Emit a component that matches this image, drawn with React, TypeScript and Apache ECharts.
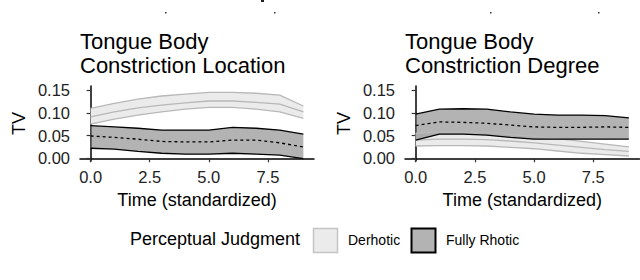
import React, { useEffect, useRef } from "react";
import * as echarts from "echarts";

const timePoints = [0, 1, 2, 3, 4, 5, 6, 7, 8, 9];
const xTicks = [0, 2.5, 5, 7.5];
const yTicks = [0, 0.05, 0.1, 0.15];

// Tongue Body Constriction Location
const locDerhoticUpper = [0.110, 0.121, 0.130, 0.137, 0.141, 0.145, 0.145, 0.143, 0.139, 0.115];
const locDerhoticMean = [0.091, 0.102, 0.111, 0.117, 0.122, 0.126, 0.126, 0.123, 0.119, 0.102];
const locDerhoticLower = [0.075, 0.086, 0.095, 0.102, 0.108, 0.112, 0.112, 0.108, 0.102, 0.088];
const locRhoticUpper = [0.072, 0.069, 0.066, 0.062, 0.062, 0.062, 0.068, 0.066, 0.062, 0.053];
const locRhoticMean = [0.049, 0.046, 0.042, 0.037, 0.036, 0.036, 0.040, 0.040, 0.034, 0.025];
const locRhoticLower = [0.022, 0.020, 0.015, 0.011, 0.009, 0.009, 0.011, 0.009, 0.007, -0.001];

// Tongue Body Constriction Degree
const degDerhoticUpper = [0.055, 0.057, 0.057, 0.056, 0.052, 0.048, 0.043, 0.037, 0.031, 0.025];
const degDerhoticMean = [0.040, 0.042, 0.042, 0.041, 0.038, 0.034, 0.029, 0.024, 0.019, 0.015];
const degDerhoticLower = [0.027, 0.028, 0.028, 0.027, 0.024, 0.021, 0.016, 0.011, 0.008, 0.005];
const degRhoticUpper = [0.097, 0.108, 0.109, 0.108, 0.102, 0.097, 0.095, 0.095, 0.094, 0.089];
const degRhoticMean = [0.072, 0.080, 0.079, 0.077, 0.073, 0.069, 0.068, 0.068, 0.069, 0.068];
const degRhoticLower = [0.040, 0.053, 0.053, 0.051, 0.046, 0.042, 0.042, 0.042, 0.042, 0.042];

const panelTitles = ["Tongue Body\nConstriction Location", "Tongue Body\nConstriction Degree"];
const legendTitle = "Perceptual Judgment";
const legendLabels = ["Derhotic", "Fully Rhotic"];

const FONT = "'Liberation Sans', Arial, sans-serif";
const D_FILL = "#ebebeb";
const D_LINE = "#b8b8b8";
const R_FILL = "#808080";

const pairs = (vals: number[]) => timePoints.map((t, i) => [t, vals[i]]);

function bandSeries(idx: number, up: number[], lo: number[], fill: string, opacity: number) {
  return {
    type: "custom",
    xAxisIndex: idx,
    yAxisIndex: idx,
    silent: true,
    clip: true,
    data: timePoints.map((t, i) => [t, lo[i], up[i]]),
    encode: { x: 0, y: [1, 2] },
    renderItem: (params: any, api: any) => {
      if (params.dataIndex !== 0) return null;
      const top = timePoints.map((t, i) => api.coord([t, up[i]]));
      const bottom = timePoints.map((t, i) => api.coord([t, lo[i]])).reverse();
      return {
        type: "polygon",
        shape: { points: top.concat(bottom) },
        style: { fill, opacity },
      };
    },
  };
}

function panelSeries(idx: number, dU: number[], dM: number[], dL: number[], rU: number[], rM: number[], rL: number[]) {
  const base = { type: "line", xAxisIndex: idx, yAxisIndex: idx, symbol: "none", silent: true };
  const edge = (vals: number[], color: string, width: number, type: any = "solid") => ({
    ...base,
    data: pairs(vals),
    lineStyle: { color, width, type },
  });
  return [
    bandSeries(idx, dU, dL, D_FILL, 1),
    edge(dU, D_LINE, 1.3),
    edge(dL, D_LINE, 1.3),
    edge(dM, D_LINE, 1.3),
    bandSeries(idx, rU, rL, R_FILL, 0.6),
    edge(rU, "#000", 1.3),
    edge(rL, "#000", 1.3),
    edge(rM, "#000", 1.3, [3, 3]),
  ];
}

export default function App() {
  const ref = useRef<HTMLDivElement>(null);
  useEffect(() => {
    if (!ref.current) return;
    const chart = echarts.init(ref.current, null, { renderer: "svg" });
    const grids = [
      { left: 80, top: 86, width: 234, height: 75 },
      { left: 405, top: 86, width: 234.5, height: 75 },
    ];
    const axisLine = { show: true, lineStyle: { color: "#000", width: 1.5 } };
    const xAxis = grids.map((_, i) => ({
      type: "value",
      gridIndex: i,
      min: -0.45,
      max: 9.45,
      name: "Time (standardized)",
      nameLocation: "middle",
      nameGap: 30,
      nameTextStyle: { fontSize: 18, fontFamily: FONT, color: "#000" },
      axisLine,
      axisTick: { show: true, length: 4, customValues: xTicks, lineStyle: { color: "#333", width: 1.2 } },
      axisLabel: {
        customValues: xTicks,
        formatter: (v: number) => v.toFixed(1),
        fontSize: 16.5,
        fontFamily: FONT,
        color: "#222",
        margin: 7,
      },
      splitLine: { show: false },
    }));
    const yAxis = grids.map((_, i) => ({
      type: "value",
      gridIndex: i,
      min: -0.006,
      max: 0.159,
      name: "TV",
      nameLocation: "middle",
      nameGap: 52,
      nameTextStyle: { fontSize: 18, fontFamily: FONT, color: "#000" },
      axisLine,
      axisTick: { show: true, length: 4, customValues: yTicks, lineStyle: { color: "#333", width: 1.2 } },
      axisLabel: {
        customValues: yTicks,
        formatter: (v: number) => v.toFixed(2),
        fontSize: 16.5,
        fontFamily: FONT,
        color: "#222",
        margin: 10,
      },
      splitLine: { show: false },
    }));
    const title = panelTitles.map((t, i) => ({
      text: t,
      left: i === 0 ? 80 : 405,
      top: 29,
      padding: 0,
      textStyle: { fontSize: 22, lineHeight: 24, fontWeight: "normal", fontFamily: FONT, color: "#000" },
    }));
    const legendY = 240.5;
    const graphic = [
      { type: "text", left: 130, top: legendY - 11, style: { text: legendTitle, fontSize: 18, fontFamily: FONT, fill: "#000" } },
      { type: "rect", shape: { x: 313.5, y: 228.5, width: 24, height: 24 }, style: { fill: D_FILL, stroke: "#c4c4c4", lineWidth: 1.5 } },
      { type: "text", left: 348, top: legendY - 8, style: { text: legendLabels[0], fontSize: 14, fontFamily: FONT, fill: "#000" } },
      { type: "rect", shape: { x: 411.5, y: 228.5, width: 24, height: 24 }, style: { fill: "#b3b3b3", stroke: "#000", lineWidth: 2 } },
      { type: "text", left: 446, top: legendY - 8, style: { text: legendLabels[1], fontSize: 14, fontFamily: FONT, fill: "#000" } },
      { type: "rect", shape: { x: 261, y: 0, width: 3, height: 2 }, style: { fill: "#222" } },
      { type: "rect", shape: { x: 165, y: 12, width: 1.5, height: 1.5 }, style: { fill: "#333" } },
      { type: "rect", shape: { x: 274, y: 12, width: 1.5, height: 1.5 }, style: { fill: "#333" } },
      { type: "rect", shape: { x: 490, y: 12, width: 1.5, height: 1.5 }, style: { fill: "#333" } },
      { type: "rect", shape: { x: 598, y: 12, width: 1.5, height: 1.5 }, style: { fill: "#333" } },
    ];
    chart.setOption({
      animation: false,
      backgroundColor: "#fff",
      title,
      grid: grids,
      xAxis,
      yAxis,
      graphic,
      series: [
        ...panelSeries(0, locDerhoticUpper, locDerhoticMean, locDerhoticLower, locRhoticUpper, locRhoticMean, locRhoticLower),
        ...panelSeries(1, degDerhoticUpper, degDerhoticMean, degDerhoticLower, degRhoticUpper, degRhoticMean, degRhoticLower),
      ],
    });
    return () => chart.dispose();
  }, []);
  return <div ref={ref} style={{ position: "fixed", left: 0, top: 0, width: 640, height: 280 }} />;
}
